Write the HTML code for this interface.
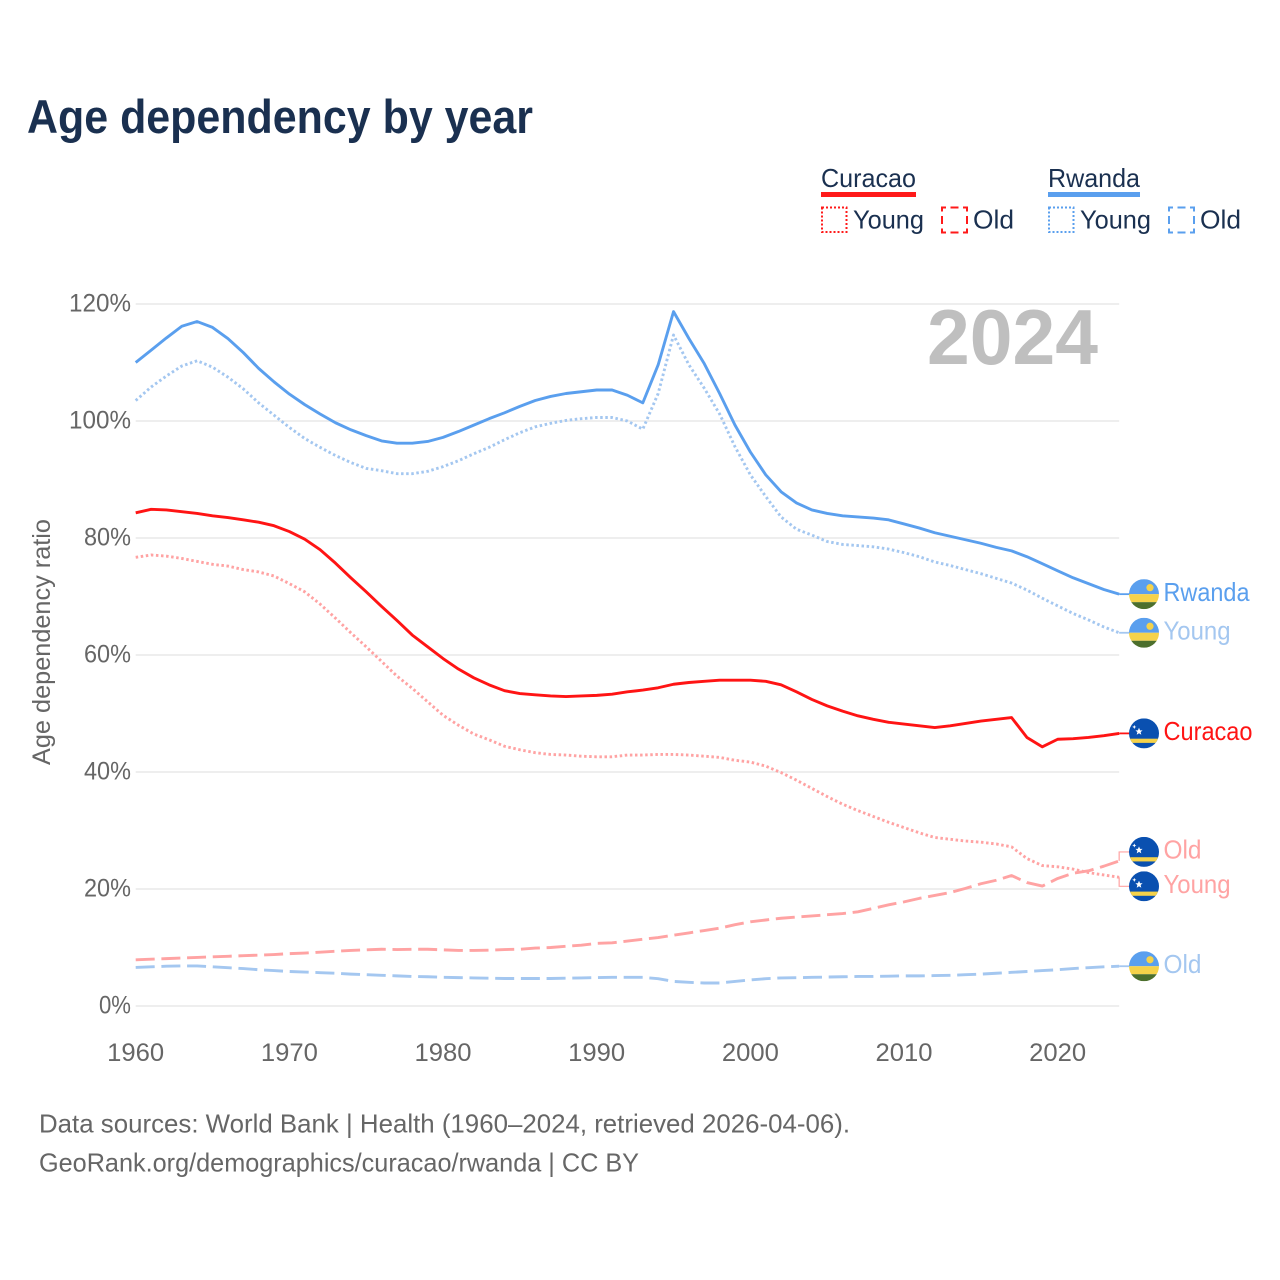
<!DOCTYPE html>
<html lang="en">
<head>
<meta charset="utf-8">
<title>Age dependency by year</title>
<style>
  html, body { margin: 0; padding: 0; background: #ffffff; }
  svg { display: block; font-family: "Liberation Sans", sans-serif; }
</style>
</head>
<body>
<svg id="chart" xmlns="http://www.w3.org/2000/svg" width="1280" height="1280" viewBox="0 0 1280 1280">
  <defs>
    <clipPath id="flag-clip"><circle cx="0" cy="0" r="15"/></clipPath>
    <symbol id="flag-rwanda" viewBox="-15 -15 30 30" width="30" height="30">
      <g clip-path="url(#flag-clip)">
        <rect x="-15" y="-15" width="30" height="15" fill="#5a9fee"/>
        <rect x="-15" y="0" width="30" height="8" fill="#f5d24a"/>
        <rect x="-15" y="8" width="30" height="7" fill="#4c6f2d"/>
        <circle cx="6" cy="-6.5" r="3.6" fill="#f5d24a"/>
      </g>
    </symbol>
    <symbol id="flag-curacao" viewBox="-15 -15 30 30" width="30" height="30">
      <g clip-path="url(#flag-clip)">
        <rect x="-15" y="-15" width="30" height="30" fill="#0a50b0"/>
        <rect x="-15" y="5.3" width="30" height="4.2" fill="#f5d24a"/>
        <polygon points="-5,-5.6 -3.9,-3 -1.4,-3 -3.4,-1.3 -2.7,1.4 -5,-0.1 -7.3,1.4 -6.6,-1.3 -8.6,-3 -6.1,-3" fill="#ffffff"/>
        <polygon points="-9.7,-8.4 -9,-6.9 -7.6,-6.5 -9,-5.9 -9.7,-4.4 -10.4,-5.9 -11.8,-6.5 -10.4,-6.9" fill="#ffffff"/>
      </g>
    </symbol>
  </defs>

  <text x="27" y="133" font-size="47" font-weight="700" fill="#1a3050" textLength="506" lengthAdjust="spacingAndGlyphs">Age dependency by year</text>

  <g font-size="26" fill="#1a3050">
    <text x="821" y="187" textLength="95" lengthAdjust="spacingAndGlyphs">Curacao</text>
    <rect x="821" y="192" width="95" height="5" fill="#ff1a1a"/>
    <rect x="822" y="207.5" width="24.5" height="24.5" fill="none" stroke="#ff1a1a" stroke-width="2" stroke-dasharray="2 2"/>
    <text x="853" y="228.5" textLength="71" lengthAdjust="spacingAndGlyphs">Young</text>
    <rect x="942" y="207.5" width="25" height="25" fill="none" stroke="#ff1a1a" stroke-width="2" stroke-dasharray="8 4.5" stroke-dashoffset="4"/>
    <text x="973" y="228.5" textLength="41" lengthAdjust="spacingAndGlyphs">Old</text>

    <text x="1048" y="187" textLength="92" lengthAdjust="spacingAndGlyphs">Rwanda</text>
    <rect x="1048" y="192" width="92" height="5" fill="#5a9fee"/>
    <rect x="1049" y="207.5" width="24.5" height="24.5" fill="none" stroke="#5a9fee" stroke-width="2" stroke-dasharray="2 2"/>
    <text x="1080" y="228.5" textLength="71" lengthAdjust="spacingAndGlyphs">Young</text>
    <rect x="1169" y="207.5" width="25" height="25" fill="none" stroke="#5a9fee" stroke-width="2" stroke-dasharray="8 4.5" stroke-dashoffset="4"/>
    <text x="1200" y="228.5" textLength="41" lengthAdjust="spacingAndGlyphs">Old</text>
  </g>

  <g id="grid"></g>
  <g id="yticks"></g>
  <g id="xticks"></g>

  <text transform="translate(50 642) rotate(-90)" text-anchor="middle" font-size="25" fill="#666666" textLength="246" lengthAdjust="spacingAndGlyphs">Age dependency ratio</text>

  <text id="year-label" x="927" y="364" font-size="78" font-weight="700" fill="#bfbfbf" textLength="171" lengthAdjust="spacingAndGlyphs">2024</text>

  <g id="series"></g>
  <g id="ends"></g>

  <text x="39" y="1132.5" font-size="26" fill="#666666" textLength="811" lengthAdjust="spacingAndGlyphs">Data sources: World Bank | Health (1960–2024, retrieved 2026-04-06).</text>
  <text x="39" y="1171.5" font-size="26" fill="#666666" textLength="600" lengthAdjust="spacingAndGlyphs">GeoRank.org/demographics/curacao/rwanda | CC BY</text>
</svg>

<script>
const startYear = 1960;
const xTickYears = [1960, 1970, 1980, 1990, 2000, 2010, 2020];
const yTickValues = [0, 20, 40, 60, 80, 100, 120];

const rwandaTotal = [110, 112.1, 114.2, 116.2, 117, 116, 114.1, 111.7, 109, 106.7,
  104.6, 102.8, 101.2, 99.7, 98.5, 97.5, 96.6, 96.2, 96.2, 96.5,
  97.2, 98.2, 99.3, 100.4, 101.4, 102.5, 103.5, 104.2, 104.7, 105,
  105.3, 105.3, 104.4, 103.1, 109.6, 118.7, 114.1, 109.8, 104.7, 99.3,
  94.7, 90.8, 87.9, 86, 84.8, 84.2, 83.8, 83.6, 83.4, 83.1,
  82.4, 81.7, 80.9, 80.3, 79.7, 79.1, 78.4, 77.8, 76.8, 75.6,
  74.4, 73.2, 72.2, 71.2, 70.4];

const rwandaYoung = [103.5, 105.8, 107.7, 109.4, 110.3, 109.2, 107.5, 105.5, 103.1, 101,
  98.9, 97, 95.5, 94.1, 92.9, 91.9, 91.5, 91, 91, 91.4,
  92.2, 93.2, 94.4, 95.5, 96.8, 98, 99, 99.6, 100.1, 100.4,
  100.6, 100.6, 100, 98.6, 104.7, 114.7, 109.6, 105.6, 101.2, 95.6,
  90.8, 87.1, 83.6, 81.5, 80.5, 79.4, 78.9, 78.7, 78.5, 78.1,
  77.5, 76.8, 75.9, 75.3, 74.6, 73.9, 73.1, 72.3, 71.1, 69.7,
  68.4, 67.1, 66, 64.8, 63.8];

const rwandaOld = [6.6, 6.7, 6.8, 6.85, 6.85, 6.7, 6.55, 6.4, 6.2, 6.05,
  5.9, 5.8, 5.7, 5.6, 5.45, 5.35, 5.25, 5.15, 5.05, 5,
  4.9, 4.85, 4.8, 4.75, 4.7, 4.7, 4.7, 4.7, 4.75, 4.8,
  4.85, 4.9, 4.9, 4.9, 4.67, 4.2, 4.05, 3.93, 3.93, 4.2,
  4.45, 4.67, 4.8, 4.84, 4.9, 4.95, 5, 5.05, 5.05, 5.1,
  5.15, 5.15, 5.2, 5.25, 5.35, 5.45, 5.6, 5.75, 5.9, 6.05,
  6.2, 6.4, 6.55, 6.7, 6.8];

const curacaoTotal = [84.3, 84.9, 84.8, 84.5, 84.2, 83.8, 83.5, 83.1, 82.7, 82.1,
  81.1, 79.8, 78, 75.7, 73.2, 70.8, 68.3, 65.9, 63.4, 61.4,
  59.4, 57.6, 56.1, 54.9, 53.9, 53.4, 53.2, 53, 52.9, 53,
  53.1, 53.3, 53.7, 54, 54.4, 55, 55.3, 55.5, 55.7, 55.7,
  55.7, 55.5, 54.9, 53.7, 52.4, 51.3, 50.4, 49.6, 49, 48.5,
  48.2, 47.9, 47.6, 47.9, 48.3, 48.7, 49, 49.3, 45.9, 44.3,
  45.6, 45.7, 45.9, 46.2, 46.6];

const curacaoYoung = [76.7, 77.1, 76.9, 76.5, 76, 75.5, 75.2, 74.6, 74.2, 73.5,
  72.2, 70.8, 68.7, 66.3, 63.8, 61.4, 58.9, 56.4, 54.3, 52,
  49.7, 48, 46.5, 45.5, 44.4, 43.8, 43.3, 43, 42.9, 42.7,
  42.6, 42.6, 42.9, 42.9, 43, 43, 42.9, 42.7, 42.5, 42,
  41.7, 41, 39.9, 38.6, 37.2, 35.8, 34.5, 33.4, 32.4, 31.4,
  30.5, 29.6, 28.8, 28.5, 28.2, 28, 27.7, 27.2, 25.2, 24,
  23.8, 23.4, 22.8, 22.4, 22];

const curacaoOld = [7.9, 8, 8.1, 8.2, 8.3, 8.4, 8.5, 8.6, 8.7, 8.8,
  8.95, 9.05, 9.2, 9.35, 9.5, 9.6, 9.7, 9.65, 9.7, 9.7,
  9.6, 9.5, 9.5, 9.55, 9.65, 9.7, 9.9, 10, 10.2, 10.4,
  10.7, 10.8, 11.1, 11.4, 11.7, 12.1, 12.5, 12.9, 13.3, 13.9,
  14.4, 14.7, 15, 15.2, 15.4, 15.6, 15.8, 16.1, 16.7, 17.3,
  17.8, 18.4, 18.9, 19.4, 20.1, 20.9, 21.5, 22.3, 21.1, 20.5,
  21.8, 22.7, 23.1, 23.9, 24.8];

const NS = 'http://www.w3.org/2000/svg';
const xScale = function (year) { return 135.7 + (year - 1960) * (1058 - 136) / 60; };
const yScale = function (value) { return 1006 - value * 5.85; };

function make(tag, parent) {
  const el = document.createElementNS(NS, tag);
  parent.appendChild(el);
  return el;
}

const gridGroup = document.getElementById('grid');
const yTickGroup = document.getElementById('yticks');
const xTickGroup = document.getElementById('xticks');
const seriesGroup = document.getElementById('series');
const endsGroup = document.getElementById('ends');

yTickValues.forEach(function (v) {
  const line = make('line', gridGroup);
  
  
  line.setAttribute('x1', xScale(1960));
  line.setAttribute('x2', xScale(2024));
  line.setAttribute('y1', yScale(v));
  line.setAttribute('y2', yScale(v));
  line.setAttribute('stroke', '#eeeeee');
  line.setAttribute('stroke-width', '2');

  const label = make('text', yTickGroup);
  const str = v + '%';
  
  
  label.setAttribute('x', 131 - (15 * (str.length - 1) + 17));
  label.setAttribute('y', yScale(v) + 7.3);
  label.setAttribute('font-size', '25');
  label.setAttribute('fill', '#666666');
  label.setAttribute('textLength', 15 * (str.length - 1) + 17);
  label.setAttribute('lengthAdjust', 'spacingAndGlyphs');
  label.textContent = str;
});

xTickYears.forEach(function (year) {
  const label = make('text', xTickGroup);
  
  
  label.setAttribute('x', xScale(year) - 28.5);
  label.setAttribute('y', 1061);
  label.setAttribute('font-size', '25');
  label.setAttribute('fill', '#666666');
  label.setAttribute('textLength', '57');
  label.setAttribute('lengthAdjust', 'spacingAndGlyphs');
  label.textContent = String(year);
});

function drawLine(key, values, color, dash) {
  const d = values.map(function (v, i) {
    return (i ? 'L' : 'M') + xScale(startYear + i).toFixed(2) + ' ' + yScale(v).toFixed(2);
  }).join(' ');
  const path = make('path', seriesGroup);
  
  
  path.setAttribute('d', d);
  path.setAttribute('fill', 'none');
  path.setAttribute('stroke', color);
  path.setAttribute('stroke-width', '2.9');
  path.setAttribute('stroke-linejoin', 'round');
  if (dash) path.setAttribute('stroke-dasharray', dash);
}

function drawEnd(key, values, color, flag, text, textWidth, nudge) {
  const last = values[values.length - 1];
  const x0 = xScale(2024);
  const y0 = yScale(last);
  const yFlag = y0 + nudge;

  const conn = make('path', endsGroup);
  
  
  conn.setAttribute('d', 'M' + x0 + ' ' + y0 + ' L' + x0 + ' ' + yFlag + ' L' + (x0 + 11) + ' ' + yFlag);
  conn.setAttribute('fill', 'none');
  conn.setAttribute('stroke', color);
  conn.setAttribute('stroke-width', nudge ? '1.2' : '1.8');

  const use = make('use', endsGroup);
  
  
  use.setAttribute('href', '#' + flag);
  use.setAttribute('x', 1129);
  use.setAttribute('y', yFlag - 15);
  use.setAttribute('width', 30);
  use.setAttribute('height', 30);

  const label = make('text', endsGroup);
  
  
  label.setAttribute('x', 1163.5);
  label.setAttribute('y', yFlag + 6.7);
  label.setAttribute('font-size', '26');
  label.setAttribute('fill', color);
  label.setAttribute('textLength', textWidth);
  label.setAttribute('lengthAdjust', 'spacingAndGlyphs');
  label.textContent = text;
}

const BLUE = '#5a9fee', PALE_BLUE = '#a4c7f0', RED = '#ff1414', PALE_RED = '#ffa3a3';
const DOT = '2.5 2.6', DASH = '19 6.7';

drawLine('rwanda-old', rwandaOld, PALE_BLUE, DASH);
drawLine('curacao-old', curacaoOld, PALE_RED, DASH);
drawLine('curacao-young', curacaoYoung, PALE_RED, DOT);
drawLine('rwanda-young', rwandaYoung, PALE_BLUE, DOT);
drawLine('curacao-total', curacaoTotal, RED, null);
drawLine('rwanda-total', rwandaTotal, BLUE, null);

drawEnd('rwanda-total', rwandaTotal, BLUE, 'flag-rwanda', 'Rwanda', 86, 0);
drawEnd('rwanda-young', rwandaYoung, PALE_BLUE, 'flag-rwanda', 'Young', 67, 0);
drawEnd('curacao-total', curacaoTotal, RED, 'flag-curacao', 'Curacao', 89, 0);
drawEnd('curacao-old', curacaoOld, PALE_RED, 'flag-curacao', 'Old', 38, -9);
drawEnd('curacao-young', curacaoYoung, PALE_RED, 'flag-curacao', 'Young', 67, 9);
drawEnd('rwanda-old', rwandaOld, PALE_BLUE, 'flag-rwanda', 'Old', 38, 0);
</script>
</body>
</html>
